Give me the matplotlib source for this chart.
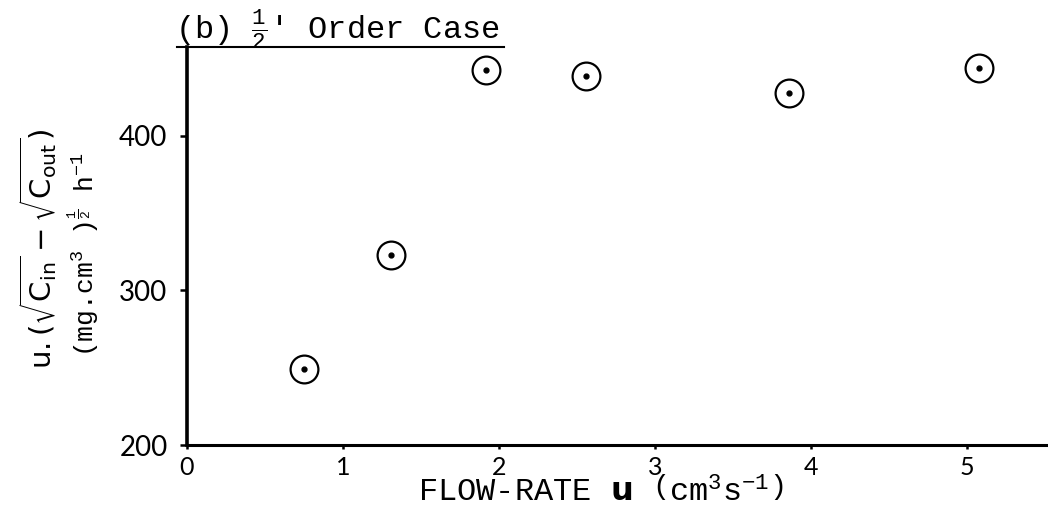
import matplotlib
matplotlib.use("Agg")
import matplotlib.pyplot as plt

# Datos (b)
caudal = [0.75, 1.31, 1.92, 2.56, 3.86, 5.08]
valor = [249, 323, 443, 439, 428, 444]
xticks = [0, 1, 2, 3, 4, 5]
yticks = [200, 300, 400]

plt.rcParams['mathtext.fontset'] = 'custom'
plt.rcParams['mathtext.rm'] = 'Liberation Mono'
plt.rcParams['mathtext.it'] = 'Liberation Mono'
plt.rcParams['mathtext.bf'] = 'DejaVu Sans:bold'
plt.rcParams['mathtext.sf'] = 'DejaVu Sans'

W, H = 1048, 515
fig = plt.figure(figsize=(W / 100, H / 100), dpi=100)
ax = fig.add_axes([187 / W, 70 / H, 861 / W, 398 / H])
ymax = 457.6
ax.set_xlim(0, 5.52)
ax.set_ylim(200, ymax)

#Circulos con punto al centro
ax.plot(caudal, valor, 'o', ms=20, mfc='none', mec='black', mew=1.6, ls='none')
ax.plot(caudal, valor, 'o', ms=3.5, color='black', ls='none')

ax.spines['top'].set_visible(False)
ax.spines['right'].set_visible(False)
ax.spines['left'].set_linewidth(2.6)
ax.spines['bottom'].set_linewidth(2.2)
#Linea superior que subraya el titulo
ax.plot([-0.064, 2.03], [ymax, ymax], color='black', lw=1.5, clip_on=False)

ax.set_xticks(xticks)
ax.set_yticks(yticks)
ax.set_xticklabels([str(t) for t in xticks], fontfamily='Lato', fontsize=18, color='black')
ax.set_yticklabels([str(t) for t in yticks], fontfamily='Lato', fontsize=20, color='black')
ax.tick_params(axis='x', direction='out', length=3, width=1.8, pad=5)
ax.tick_params(axis='y', direction='out', length=5, width=1.8, pad=9)

fig.text(175 / W, (H - 38) / H, r"(b) $\frac{1}{2}$' Order Case",
         family='Liberation Mono', fontsize=23, va='baseline')

fig.text(601 / W, 13 / H, r"FLOW-RATE $\mathbf{u}$ $\left(\mathrm{cm}^{3}\mathrm{s}^{-1}\right)$",
         family='Liberation Mono', fontsize=23, ha='center', va='baseline')

fig.text(38 / W, (H - 249) / H,
         r'$\mathrm{u.(}\sqrt{\mathrm{C}_{\mathrm{in}}}-\sqrt{\mathrm{C}_{\mathrm{out}}}\mathrm{)}$',
         rotation=90, ha='center', va='center', fontsize=21, math_fontfamily='dejavusans')
fig.text(84 / W, (H - 255) / H, r"(mg.cm$^{3}$ )$^{\frac{1}{2}}$ h$^{-1}$",
         rotation=90, ha='center', va='center', family='Liberation Mono', fontsize=19)

fig.savefig('out.png', dpi=100)
